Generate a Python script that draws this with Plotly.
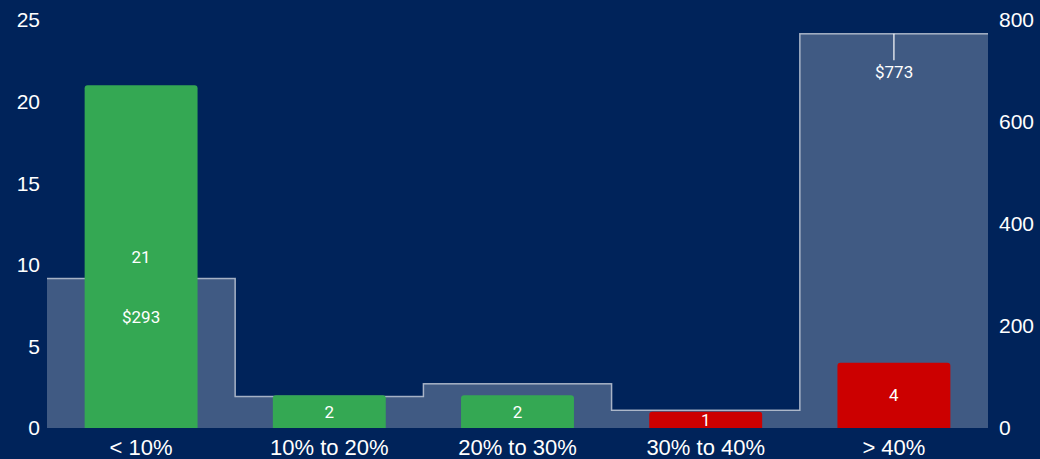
import plotly.graph_objects as go

categories = ["< 10%", "10% to 20%", "20% to 30%", "30% to 40%", "> 40%"]
counts = [21, 2, 2, 1, 4]
bar_colors = ["#34a853", "#34a853", "#34a853", "#cc0000", "#cc0000"]
amounts = [293, 62, 87, 35, 773]
amount_labels = {0: "$293", 4: "$773"}

idx = list(range(len(categories)))
step_x = [i - 0.5 for i in idx] + [len(idx) - 0.5]
step_y = amounts + [amounts[-1]]

fig = go.Figure()
fig.add_trace(go.Scatter(
    x=step_x, y=step_y, mode="lines", line_shape="hv",
    line=dict(color="rgba(255,255,255,0.6)", width=1.5),
    fill="tozeroy", fillcolor="rgba(255,255,255,0.25)",
    yaxis="y", hoverinfo="skip", showlegend=False,
))
fig.add_trace(go.Bar(
    x=idx, y=counts, marker=dict(color=bar_colors, line=dict(width=0)),
    width=0.6, text=[str(c) for c in counts], textposition="inside",
    insidetextanchor="middle", textangle=0,
    textfont=dict(family="Roboto", size=17, color="white"),
    yaxis="y2", showlegend=False,
))

for i, lab in amount_labels.items():
    if i == 4:
        fig.add_annotation(x=i, y=amounts[i], xref="x", yref="y", text=lab,
                           showarrow=True, arrowhead=0, arrowwidth=1.5,
                           arrowcolor="rgba(255,255,255,0.8)", ax=0, ay=38,
                           font=dict(family="Roboto", size=17, color="white"))
    else:
        fig.add_annotation(x=i, y=amounts[i], xref="x", yref="y", text=lab,
                           showarrow=False, yshift=-38,
                           font=dict(family="Roboto", size=17, color="white"))

fig.update_layout(
    width=1040, height=459,
    margin=dict(l=47, r=52, t=20, b=31),
    paper_bgcolor="#00235a", plot_bgcolor="#00235a",
    font=dict(family="Liberation Sans, Arial", size=21, color="white"),
    bargap=0.4,
    uniformtext=dict(minsize=17, mode="show"),
    xaxis=dict(range=[-0.5, 4.5], tickvals=idx, ticktext=categories,
               showgrid=False, zeroline=False, showline=False, ticks="",
               tickfont=dict(size=22), automargin=False, ticklabelstandoff=4),
    yaxis=dict(range=[0, 800], side="right", tickvals=[0, 200, 400, 600, 800],
               showgrid=False, zeroline=False, ticks="", tickfont=dict(size=21),
               automargin=False, ticklabelstandoff=10),
    yaxis2=dict(range=[0, 25], side="left", overlaying="y",
                tickvals=[0, 5, 10, 15, 20, 25],
                showgrid=False, zeroline=False, ticks="", tickfont=dict(size=21),
                automargin=False, ticklabelstandoff=6),
    barcornerradius=3,
)

fig.write_html("out.html")
